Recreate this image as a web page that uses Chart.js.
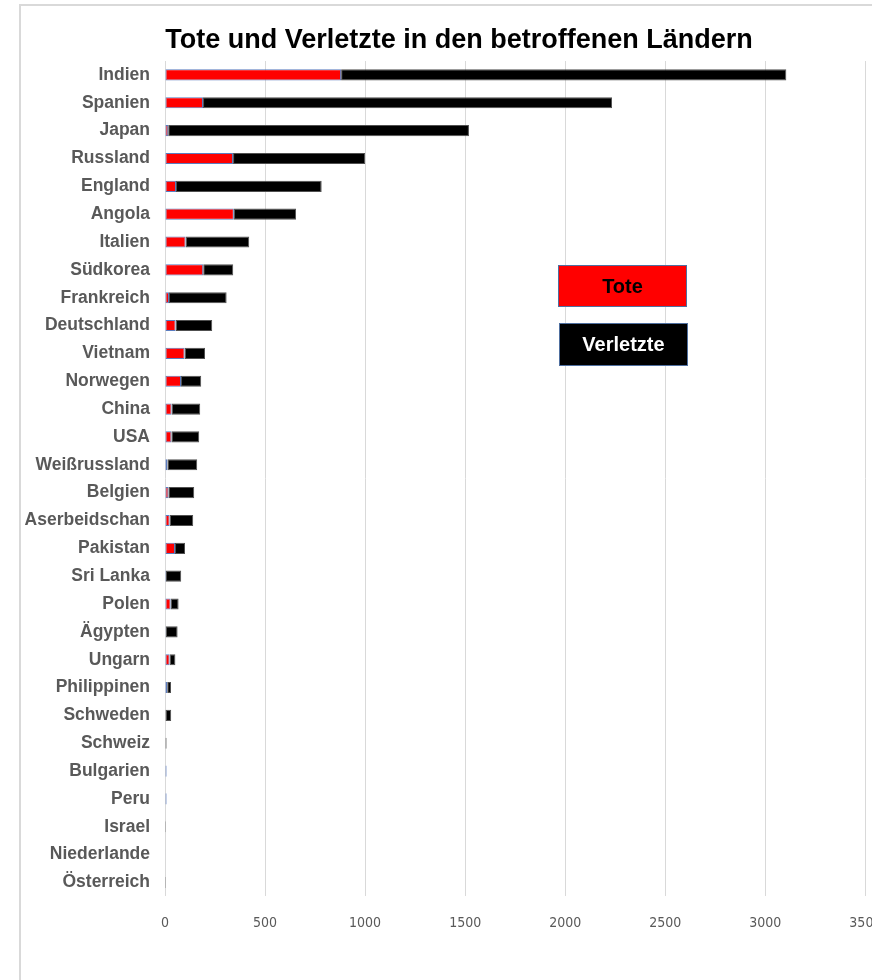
<!DOCTYPE html>
<html>
<head>
<meta charset="utf-8">
<script src="https://cdn.jsdelivr.net/npm/chart.js@4/dist/chart.umd.min.js"></script>
<style>
  html, body { margin: 0; padding: 0; background: #ffffff; overflow: hidden; width: 872px; height: 980px; }
  #frame { position: absolute; left: 19px; top: 4px; width: 900px; height: 1000px; border: 2px solid #d9d9d9; box-sizing: border-box; }
  #c { position: absolute; left: 0; top: 0; }
</style>
</head>
<body>
<div id="frame"></div>
<canvas id="c" width="900" height="980"></canvas>
<script>
// Countries, ordered from most to fewest casualties
const categories = ['Indien', 'Spanien', 'Japan', 'Russland', 'England', 'Angola', 'Italien', 'Südkorea',
  'Frankreich', 'Deutschland', 'Vietnam', 'Norwegen', 'China', 'USA', 'Weißrussland', 'Belgien',
  'Aserbeidschan', 'Pakistan', 'Sri Lanka', 'Polen', 'Ägypten', 'Ungarn', 'Philippinen', 'Schweden',
  'Schweiz', 'Bulgarien', 'Peru', 'Israel', 'Niederlande', 'Österreich'];

// Killed
const tote = [880, 190, 16, 340, 55, 344, 103, 191, 20, 53, 98, 80, 33, 32, 12, 17,
  23, 50, 5, 28, 4, 23, 11, 0, 0, 8, 8, 0, 3, 0];

// Injured
const verletzte = [2225, 2044, 1503, 660, 728, 311, 318, 150, 288, 183, 102, 101, 143, 139, 149, 129,
  118, 50, 76, 40, 59, 29, 19, 31, 8, 0, 0, 5, 0, 5];

// Value axis ticks
const xTicks = [0, 500, 1000, 1500, 2000, 2500, 3000, 3500];

const titleText = 'Tote und Verletzte in den betroffenen Ländern';

// Chart heading, centred over the whole chart block
const heading = {
  id: 'heading',
  afterDraw(chart) {
    const ctx = chart.ctx;
    ctx.save();
    ctx.fillStyle = '#000000';
    ctx.font = 'bold 27px "Liberation Sans", Arial, sans-serif';
    ctx.textAlign = 'center';
    ctx.textBaseline = 'alphabetic';
    ctx.fillText(titleText, 459, 48);
    ctx.restore();
  }
};

// Boxed legend entries placed inside the plot
const boxLegend = {
  id: 'boxLegend',
  afterDraw(chart) {
    const ctx = chart.ctx;
    const boxes = [
      { ds: 0, x: 558, y: 265, w: 129, h: 42, text: '#000000' },
      { ds: 1, x: 559, y: 323, w: 129, h: 43, text: '#ffffff' }
    ];
    ctx.save();
    boxes.forEach(b => {
      const ds = chart.data.datasets[b.ds];
      ctx.fillStyle = ds.backgroundColor;
      ctx.fillRect(b.x, b.y, b.w, b.h);
      ctx.strokeStyle = '#4f6f9f';
      ctx.lineWidth = 1;
      ctx.strokeRect(b.x + 0.5, b.y + 0.5, b.w - 1, b.h - 1);
      ctx.fillStyle = b.text;
      ctx.font = 'bold 20px "Liberation Sans", Arial, sans-serif';
      ctx.textAlign = 'center';
      ctx.textBaseline = 'middle';
      ctx.fillText(ds.label, b.x + b.w / 2, b.y + b.h / 2 + 1);
    });
    ctx.restore();
  }
};

new Chart(document.getElementById('c'), {
  type: 'bar',
  data: {
    labels: categories,
    datasets: [
      {
        label: 'Tote',
        data: tote,
        backgroundColor: '#ff0000',
        borderColor: '#5b7cc0',
        borderWidth: 1,
        borderSkipped: false,
        categoryPercentage: 0.8,
        barPercentage: 0.5
      },
      {
        label: 'Verletzte',
        data: verletzte,
        backgroundColor: '#000000',
        borderColor: '#505050',
        borderWidth: 1,
        borderSkipped: false,
        categoryPercentage: 0.8,
        barPercentage: 0.5
      }
    ]
  },
  options: {
    indexAxis: 'y',
    responsive: false,
    animation: false,
    layout: { padding: { left: 0, right: 34, top: 61, bottom: 29.6 } },
    plugins: {
      legend: { display: false },
      tooltip: { enabled: false },
      title: { display: false }
    },
    scales: {
      x: {
        stacked: true,
        min: 0,
        max: 3500,
        afterBuildTicks(scale) { scale.ticks = xTicks.map(v => ({ value: v })); },
        grid: { color: '#d9d9d9', lineWidth: 1, drawTicks: false },
        border: { display: false },
        ticks: {
          padding: 18.6,
          color: '#595959',
          callback: v => String(v),
          font: { family: '"Liberation Sans Narrow", "DejaVu Sans Condensed", Arial, sans-serif', size: 14, lineHeight: 1.2 }
        }
      },
      y: {
        stacked: true,
        afterFit(scale) { scale.width = 165; },
        grid: { display: false, drawTicks: false },
        border: { display: false },
        ticks: {
          padding: 15,
          color: '#595959',
          autoSkip: false,
          font: { family: '"Liberation Sans", Arial, sans-serif', size: 17.5, weight: 'bold' }
        }
      }
    }
  },
  plugins: [heading, boxLegend]
});
</script>
</body>
</html>
